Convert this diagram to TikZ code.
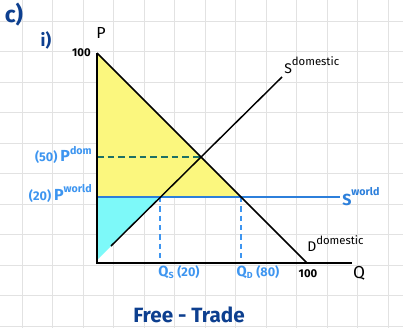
\documentclass[tikz,border=0pt]{standalone}
\usepackage{fontspec}
\setmainfont{Fira Sans}
\definecolor{gridc}{HTML}{E2E2E2}
\definecolor{titleblue}{HTML}{0D3F8F}
\definecolor{lblue}{HTML}{3D95F0}
\definecolor{wblue}{HTML}{2C7FDB}
\definecolor{domgreen}{HTML}{1D7065}
\definecolor{yel}{HTML}{FBF77E}
\definecolor{cya}{HTML}{7DF9F9}
\newcommand\mysup[2]{\raisebox{#1}{\fontsize{8}{8}\selectfont #2}}
\begin{document}
\begin{tikzpicture}[x=0.75pt,y=-0.75pt,
  title/.style={text=titleblue,font=\bfseries\fontsize{15}{15}\selectfont,inner sep=0pt},
  axlab/.style={text=black,font=\fontsize{12}{12}\selectfont,inner sep=0pt},
  num/.style={text=black,font=\bfseries\fontsize{8.5}{8.5}\selectfont,inner sep=0pt},
  blab/.style={text=lblue,font=\bfseries\fontsize{9.5}{9.5}\selectfont,inner sep=0pt},
  clab/.style={text=black,font=\fontsize{10.5}{10.5}\selectfont,inner sep=0pt},
  curve/.style={line width=1.1pt,black},
  qdash/.style={line width=1pt,lblue,dash pattern=on 4pt off 3pt}]
\useasboundingbox (0,0) rectangle (403,328);
\fill[white] (0,0) rectangle (403,328);
% grid
\foreach \i in {0,...,12} \draw[gridc,line width=0.5pt] ({22+30.5*\i},0) -- ({22+30.5*\i},328);
\foreach \j in {0,...,10} \draw[gridc,line width=0.5pt] (0,{21+30.5*\j}) -- (403,{21+30.5*\j});
% key points
\coordinate (O) at (97,263);
\coordinate (Ptop) at (97,53);
\coordinate (Xend) at (352,263);
\coordinate (Dend) at (307,263);
\coordinate (Sbot) at (111,246);
\coordinate (Stop) at (282,77);
\coordinate (Pw) at (97,197);
\coordinate (Pd) at (97,157);
\coordinate (E) at (200.5,157);
\coordinate (Qs) at (160,197);
\coordinate (Qd) at (241,197);
\coordinate (Wend) at (340,197);
\coordinate (Cbot) at (97,260);
\coordinate (Qsb) at (160,263);
\coordinate (Qdb) at (241,263);
% areas
\fill[yel] (Ptop) -- (Qd) -- (Pw) -- cycle;
\fill[cya] (Pw) -- (Qs) -- (Cbot) -- cycle;
% dashed
\draw[domgreen,line width=1.1pt,dash pattern=on 5pt off 3pt] (Pd) -- (E);
\draw[qdash] (Qs) -- (Qsb);
\draw[qdash] (Qd) -- (Qdb);
% world price
\draw[wblue,line width=1.1pt] (Pw) -- (Wend);
% axes
\draw[curve] (Ptop) -- (O) -- (Xend);
% curves
\draw[curve] (Ptop) -- (Dend);
\draw[curve] (Sbot) -- (Stop);
% labels
\node[title,font=\bfseries\fontsize{17}{17}\selectfont] (c) at (14,15) {c)};
\node[title,font=\bfseries\fontsize{13}{13}\selectfont] (i) at (46,40) {i)};
\node[axlab] (P) at (101,33) {P};
\node[num,anchor=east] (h1) at (91,53) {100};
\node[blab,anchor=base east] (pdl) at (92,161) {(50) {\fontsize{12}{12}\selectfont P}\mysup{5pt}{dom}};
\node[blab,anchor=base east] (pwl) at (92,200) {(20) {\fontsize{12}{12}\selectfont P}\mysup{6pt}{world}};
\node[clab,anchor=base west] (sd) at (284,74) {S\mysup{6pt}{\fontsize{8.5}{8.5}\selectfont domestic}};
\node[blab,anchor=base west,text=wblue] (sw) at (342,205) {{\fontsize{12}{12}\selectfont S}\mysup{7pt}{world}};
\node[clab,anchor=base west] (dd) at (307,251) {D\mysup{5pt}{\fontsize{8.5}{8.5}\selectfont domestic}};
\node[blab] (qsl) at (179,272) {{\fontsize{11}{11}\selectfont Q}\textsubscript{S} (20)};
\node[blab] (qdl) at (258,272) {{\fontsize{11}{11}\selectfont Q}\textsubscript{D} (80)};
\node[num] (h2) at (308,274) {100};
\node[axlab,font=\fontsize{13}{13}\selectfont] (Q) at (359,273) {Q};
\node[title,font=\bfseries\fontsize{15.5}{15.5}\selectfont] (ft) at (189,315) {Free - Trade};
\end{tikzpicture}
\end{document}
